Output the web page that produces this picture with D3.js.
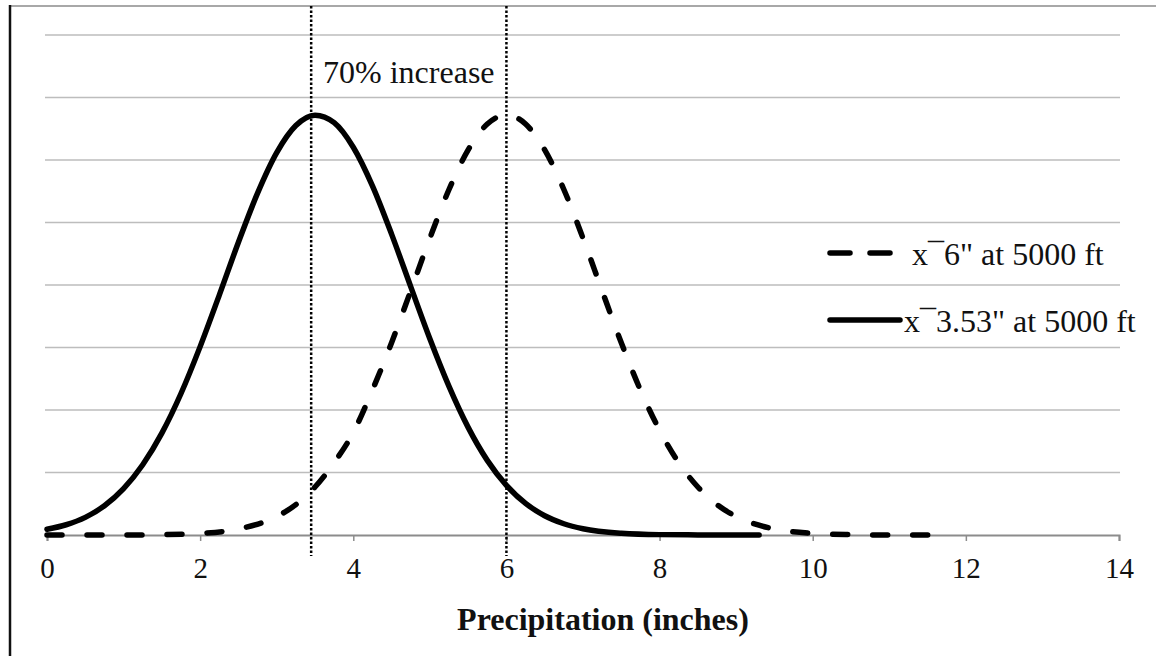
<!DOCTYPE html>
<html>
<head>
<meta charset="utf-8">
<script src="https://cdn.jsdelivr.net/npm/d3@7"></script>
<style>
  body { margin: 0; background: #fff; }
</style>
</head>
<body>
<div id="chart"></div>
<script>
// data (density per inch)
var wetX = [0, 0.5, 1, 1.5, 2, 2.5, 3, 3.25, 3.5, 3.75, 4, 4.25, 4.5, 4.75, 5, 5.25, 5.5, 5.75, 6,
            6.25, 6.5, 6.75, 7, 7.25, 7.5, 7.75, 8, 8.25, 8.5, 8.75, 9, 9.5, 10, 10.5, 11, 11.5, 11.8];
var wetY = [0, 0, 0, 0.0003, 0.0013, 0.0048, 0.0148, 0.0243, 0.0384, 0.0579, 0.082, 0.116, 0.1538, 0.1953, 0.2374, 0.2764, 0.3081, 0.3288, 0.336,
            0.3288, 0.3081, 0.2764, 0.2374, 0.1953, 0.1538, 0.116, 0.0838, 0.0579, 0.0384, 0.0243, 0.0148, 0.0048, 0.0013, 0.0003, 0, 0, 0];
var dryX = [0, 0.25, 0.5, 0.75, 1, 1.25, 1.5, 1.75, 2, 2.25, 2.5, 2.75, 3, 3.25, 3.5, 3.75, 4, 4.25, 4.5, 4.75,
            5, 5.25, 5.5, 5.75, 6, 6.25, 6.5, 6.75, 7, 7.5, 8, 8.5, 9, 9.3];
var dryY = [0.0046, 0.0082, 0.0141, 0.0234, 0.0371, 0.0562, 0.0815, 0.1132, 0.1507, 0.1919, 0.2342, 0.2735, 0.3059, 0.3276, 0.3359, 0.3299, 0.3102, 0.2793, 0.2407, 0.1987,
            0.157, 0.1189, 0.0861, 0.0597, 0.0397, 0.0253, 0.0154, 0.009, 0.005, 0.0014, 0.0003, 0.0001, 0, 0];
var labels = ["x\u00AF6\" at 5000 ft", "x\u00AF3.53\" at 5000 ft"];
var means = [3.45, 6];
var xTicks = [0, 2, 4, 6, 8, 10, 12, 14];
var yGrid = [0.05, 0.1, 0.15, 0.2, 0.25, 0.3, 0.35, 0.4];

var width = 1156, height = 656;
var serif = "'Liberation Serif', 'Times New Roman', Tinos, 'DejaVu Serif', serif";

var svg = d3.select("#chart").append("svg")
    .attr("width", width)
    .attr("height", height)
    .style("font-family", serif);

// set the ranges
var x = d3.scaleLinear().domain([0, 14]).range([47, 1119]);
var y = d3.scaleLinear().domain([0, 0.4]).range([535, 35]);

// frame
svg.append("line")
    .attr("x1", 10).attr("x2", width).attr("y1", 6).attr("y2", 6)
    .style("stroke", "#a8a8a8").style("stroke-width", 2);
svg.append("line")
    .attr("x1", 10).attr("x2", 10).attr("y1", 5).attr("y2", height)
    .style("stroke", "#111").style("stroke-width", 2.5);

// gridlines
svg.selectAll(".grid")
    .data(yGrid)
  .enter().append("line")
    .attr("class", "grid")
    .attr("x1", x(0) - 2).attr("x2", x(14) + 1)
    .attr("y1", function(d) { return y(d); })
    .attr("y2", function(d) { return y(d); })
    .style("stroke", "#bdbdbd").style("stroke-width", 1.5);

// x axis
var xAxis = svg.append("g")
    .attr("transform", "translate(0," + y(0) + ")")
    .call(d3.axisBottom(x).tickValues(xTicks).tickSize(6).tickPadding(16).tickFormat(d3.format("d")))
    .attr("font-family", null);
xAxis.select(".domain").style("stroke", "#8c8c8c").style("stroke-width", 2);
xAxis.selectAll(".tick line").style("stroke", "#8c8c8c").style("stroke-width", 1.5);
xAxis.selectAll(".tick text")
    .style("font-family", serif).style("font-size", "29px").style("fill", "#111");

// define the lines
var line = d3.line()
    .x(function(d) { return x(d[0]); })
    .y(function(d) { return y(d[1]); })
    .curve(d3.curveMonotoneX);

var wetData = wetX.map(function(d, i) { return [d, wetY[i]]; });
var dryData = dryX.map(function(d, i) { return [d, dryY[i]]; });

svg.append("path")
    .datum(dryData)
    .attr("d", line)
    .style("fill", "none").style("stroke", "#000")
    .style("stroke-width", 5.5).style("stroke-linecap", "round");

svg.append("path")
    .datum(wetData)
    .attr("d", line)
    .style("fill", "none").style("stroke", "#000")
    .style("stroke-width", 5.5).style("stroke-linecap", "round")
    .style("stroke-dasharray", "15,25");

// dotted lines at the means
svg.selectAll(".mean")
    .data(means)
  .enter().append("line")
    .attr("class", "mean")
    .attr("x1", function(d) { return x(d); })
    .attr("x2", function(d) { return x(d); })
    .attr("y1", 6).attr("y2", 556)
    .style("stroke", "#000").style("stroke-width", 2.5)
    .style("stroke-dasharray", "2.5,2");

svg.append("text")
    .attr("x", (x(means[0]) + x(means[1])) / 2)
    .attr("y", 83)
    .style("text-anchor", "middle")
    .style("font-family", serif)
    .style("font-size", "32px")
    .style("fill", "#111")
    .text("70% increase");

// legend
var legend = svg.selectAll(".legend")
    .data(labels)
  .enter().append("g")
    .attr("class", "legend")
    .attr("transform", function(d, i) { return "translate(0," + (253 + i * 67) + ")"; });

legend.append("line")
    .attr("x1", 830).attr("x2", function(d, i) { return i ? 900 : 890; })
    .attr("y1", 0).attr("y2", 0)
    .style("stroke", "#000").style("stroke-width", 5.5)
    .style("stroke-linecap", "round")
    .style("stroke-dasharray", function(d, i) { return i ? null : "20,20"; });

legend.append("text")
    .attr("x", function(d, i) { return i ? 904 : 912; })
    .attr("y", 12)
    .style("font-family", serif)
    .style("font-size", "32px")
    .style("fill", "#111")
    .text(function(d) { return d; });

// axis title
svg.append("text")
    .attr("x", 603)
    .attr("y", 630)
    .style("text-anchor", "middle")
    .style("font-family", serif)
    .style("font-size", "32px")
    .style("font-weight", "bold")
    .style("fill", "#111")
    .text("Precipitation (inches)");
</script>
</body>
</html>
